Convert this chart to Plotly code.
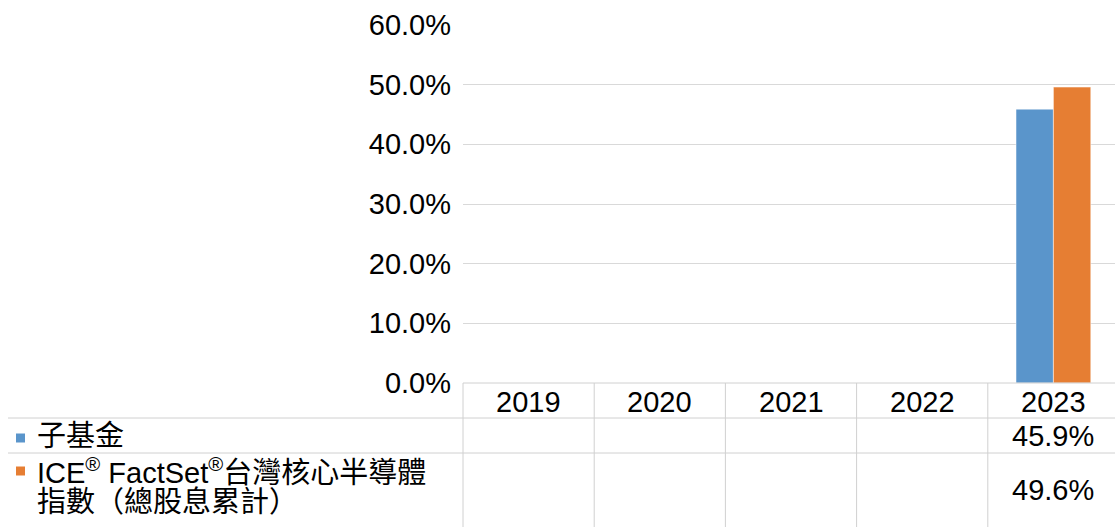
import plotly.graph_objects as go

# ---- data ----
years = ["2019", "2020", "2021", "2022", "2023"]
series_names = ["子基金", "ICE<sup>®</sup> FactSet<sup>®</sup>台灣核心半導體<br>指數（總股息累計）"]
fund_values = [None, None, None, None, 0.459]
index_values = [None, None, None, None, 0.496]
series_values = [fund_values, index_values]
series_colors = ["#5A95CB", "#E67E33"]
y_ticks = [0, 0.1, 0.2, 0.3, 0.4, 0.5, 0.6]

W, H = 1115, 527
FONT = "Liberation Sans, Arial, Noto Sans CJK TC, sans-serif"
FS = 29


def px(x):
    return x / W


def py(y):
    return (H - y) / H


fig = go.Figure()
for name, vals, col in zip(series_names, series_values, series_colors):
    fig.add_trace(go.Bar(
        x=years, y=vals, name=name, marker_color=col,
        marker_line=dict(color="rgba(255,255,255,0.5)", width=1),
        showlegend=False, hoverinfo="skip",
    ))

plot_left, plot_right = 463, 1115
cat_w = 131.2
x_end = -0.5 + (plot_right - plot_left) / cat_w
y_top, y_zero = 25, 383

fig.update_layout(
    width=W, height=H,
    margin=dict(l=0, r=0, t=0, b=0, autoexpand=False),
    paper_bgcolor="white", plot_bgcolor="white",
    barmode="group", bargap=0.43, bargroupgap=0,
    font=dict(family=FONT, size=FS, color="black"),
    xaxis=dict(
        type="category", automargin=False,
        domain=[px(plot_left), 1], range=[-0.5, x_end],
        showgrid=False, showline=False, zeroline=False, ticks="",
        showticklabels=False,
    ),
    yaxis=dict(
        automargin=False,
        domain=[py(y_zero), py(y_top)], range=[0, 0.6],
        tickvals=y_ticks, tickformat=".1%",
        showgrid=True, gridcolor="#D9D9D9", gridwidth=1,
        zeroline=False, showline=False, ticks="",
        tickfont=dict(size=FS), ticklabelstandoff=11,
    ),
)

line_col = "#D0D0D0"
shapes = []
# axis line / table top
shapes.append(dict(type="line", xref="paper", yref="paper", x0=px(plot_left), x1=1,
                   y0=py(y_zero), y1=py(y_zero), line=dict(color=line_col, width=1)))
# table row lines
for yy in (418, 453):
    shapes.append(dict(type="line", xref="paper", yref="paper", x0=px(8), x1=1,
                       y0=py(yy), y1=py(yy), line=dict(color=line_col, width=1)))
# vertical lines
for i in range(len(years)):
    xx = plot_left + i * cat_w
    shapes.append(dict(type="line", xref="paper", yref="paper", x0=px(xx), x1=px(xx),
                       y0=py(y_zero), y1=0, line=dict(color=line_col, width=1)))

annotations = []
# year header cells
for i, yr in enumerate(years):
    annotations.append(dict(text=yr, xref="x", yref="paper", x=i, y=py(401.5),
                            xanchor="center", yanchor="middle", showarrow=False,
                            font=dict(size=FS)))

row_centers = [435.5, 490]
label_lines = [[series_names[0]], series_names[1].split("<br>")]
label_y = [[435.5], [471, 502]]
marker_y = [438, 471]
for k in range(2):
    # legend marker
    shapes.append(dict(type="rect", xref="paper", yref="paper",
                       x0=px(16), x1=px(25), y0=py(marker_y[k] - 4.5), y1=py(marker_y[k] + 4.5),
                       fillcolor=series_colors[k], line=dict(width=0)))
    for txt, yy in zip(label_lines[k], label_y[k]):
        annotations.append(dict(text=txt, xref="paper", yref="paper", x=px(35), y=py(yy),
                                xanchor="left", yanchor="middle", showarrow=False,
                                font=dict(size=FS)))
    for i, v in enumerate(series_values[k]):
        if v is not None:
            annotations.append(dict(text=f"{v*100:.1f}%", xref="x", yref="paper", x=i,
                                    y=py(row_centers[k]), xanchor="center", yanchor="middle",
                                    showarrow=False, font=dict(size=FS)))

fig.update_layout(shapes=shapes, annotations=annotations)
fig.write_html("out.html", config={"displayModeBar": False},
               post_script="document.body.style.margin='0';")
